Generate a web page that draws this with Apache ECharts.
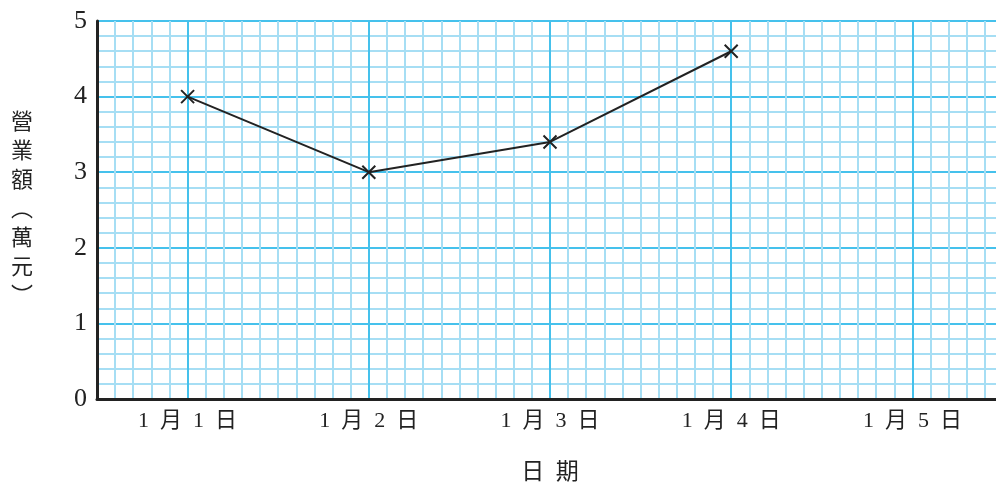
<!DOCTYPE html>
<html><head><meta charset="utf-8">
<script src="https://cdn.jsdelivr.net/npm/echarts@6/dist/echarts.min.js"></script>
<style>html,body{margin:0;padding:0;background:#fff}#c{width:996px;height:487px}</style>
</head><body><div id="c"></div>
<script>
const dateLabels = ['1  月  1  日', '1  月  2  日', '1  月  3  日', '1  月  4  日', '1  月  5  日'];
const dayIndex = [1, 2, 3, 4];
const sales = [4.0, 3.0, 3.4, 4.6];
const yTicks = [0, 1, 2, 3, 4, 5];

const MAJOR = '#45c1ec', MINOR = '#a6def4';
const serif = '"Liberation Serif","DejaVu Serif","Noto Sans CJK TC",serif';
const chart = echarts.init(document.getElementById('c'));
chart.setOption({
  animation: false,
  grid: { left: 97, right: -7, top: 21, bottom: 88, outerBoundsMode: 'none', containLabel: false },
  xAxis: {
    type: 'value', min: 0.5, max: dateLabels.length + 0.5, interval: 0.5,
    name: '日  期', nameLocation: 'middle', nameGap: 62,
    nameTextStyle: { fontSize: 23, color: '#222', fontFamily: serif },
    axisLine: { show: true, lineStyle: { color: '#222', width: 3 } },
    axisTick: { show: false },
    axisLabel: {
      margin: 11, fontSize: 22, color: '#222', fontFamily: serif,
      showMinLabel: false, showMaxLabel: false,
      formatter: v => (Math.abs(v - Math.round(v)) < 1e-6 && dateLabels[Math.round(v) - 1]) ? dateLabels[Math.round(v) - 1] : ''
    },
    splitLine: { show: true, lineStyle: { color: [MINOR, MAJOR], width: 2 } },
    minorTick: { show: false, splitNumber: 5 },
    minorSplitLine: { show: true, lineStyle: { color: MINOR, width: 2 } }
  },
  yAxis: {
    type: 'value', min: yTicks[0], max: yTicks[yTicks.length - 1], interval: 1,
    name: '營\n業\n額\n︵\n萬\n元\n︶', nameLocation: 'middle', nameRotate: 0, nameGap: 64,
    nameTextStyle: { fontSize: 22, lineHeight: 29, color: '#222', fontFamily: serif },
    axisLine: { show: true, lineStyle: { color: '#222', width: 3 } },
    axisTick: { show: false },
    axisLabel: { margin: 10, fontSize: 26, color: '#222', fontFamily: serif },
    splitLine: { show: true, lineStyle: { color: MAJOR, width: 2 } },
    minorTick: { show: false, splitNumber: 5 },
    minorSplitLine: { show: true, lineStyle: { color: MINOR, width: 2 } }
  },
  series: [{
    type: 'line',
    data: dayIndex.map((d, i) => [d, sales[i]]),
    lineStyle: { color: '#222', width: 2 },
    symbol: 'path://M0,0L10,10M10,0L0,10',
    symbolSize: 13,
    itemStyle: { color: 'none', borderColor: '#222', borderWidth: 2 },
    z: 5
  }]
});
</script></body></html>
